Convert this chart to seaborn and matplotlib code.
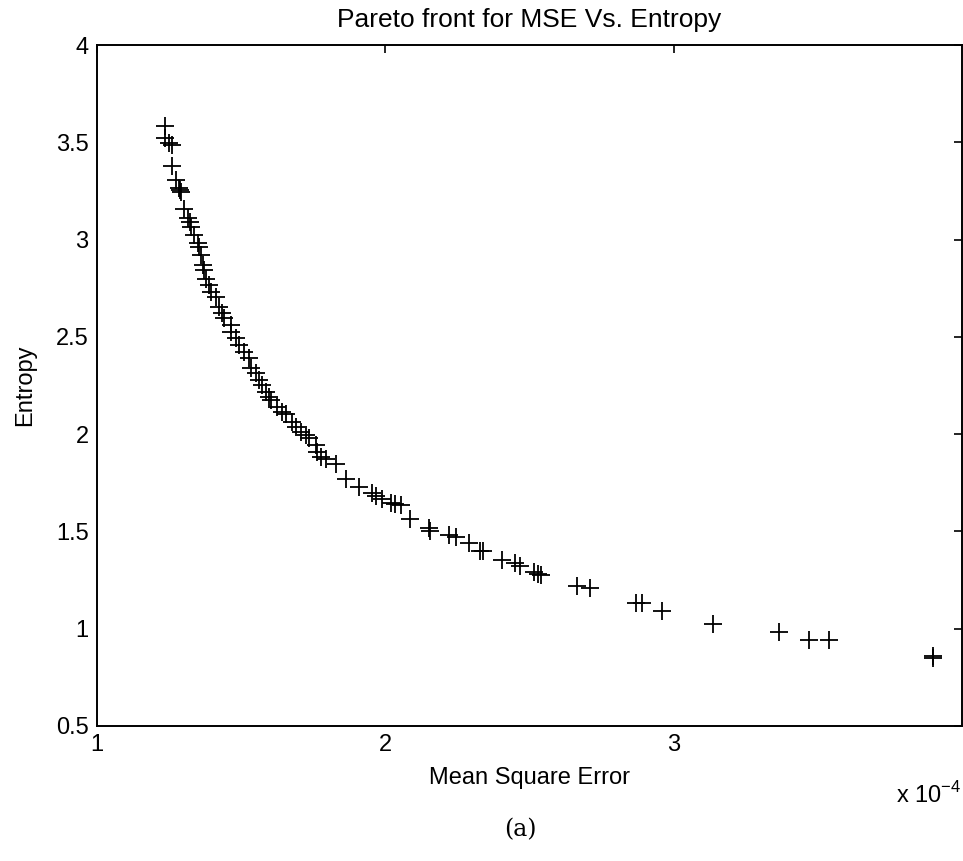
import numpy as np
import pandas as pd
import matplotlib
matplotlib.use("Agg")
import matplotlib.pyplot as plt
import seaborn as sns

# Mean square error (in units of 1e-4) and entropy of the Pareto-front solutions
mse_e4 = [1.237, 1.237, 1.251, 1.260, 1.260, 1.274, 1.283, 1.288, 1.290, 1.303,
          1.314, 1.322, 1.326, 1.337, 1.349, 1.355, 1.361, 1.366, 1.370, 1.378,
          1.389, 1.395, 1.412, 1.424, 1.435, 1.441, 1.464, 1.464, 1.482, 1.493,
          1.510, 1.528, 1.534, 1.551, 1.562, 1.574, 1.585, 1.597, 1.603, 1.626,
          1.643, 1.655, 1.678, 1.689, 1.707, 1.724, 1.735, 1.758, 1.764, 1.776,
          1.793, 1.828, 1.862, 1.908, 1.954, 1.966, 1.989, 2.018, 2.035, 2.053,
          2.084, 2.150, 2.156, 2.220, 2.245, 2.289, 2.329, 2.340, 2.405, 2.450,
          2.468, 2.517, 2.530, 2.540, 2.664, 2.710, 2.871, 2.889, 2.960, 3.137,
          3.365, 3.471, 3.538, 3.898, 3.900]
entropy = [3.584, 3.520, 3.494, 3.486, 3.378, 3.306, 3.263, 3.254, 3.245, 3.155,
           3.109, 3.092, 3.066, 3.023, 2.980, 2.963, 2.920, 2.869, 2.843, 2.800,
           2.766, 2.732, 2.706, 2.655, 2.621, 2.595, 2.560, 2.526, 2.492, 2.458,
           2.423, 2.389, 2.338, 2.312, 2.278, 2.252, 2.218, 2.192, 2.175, 2.140,
           2.115, 2.106, 2.063, 2.038, 2.012, 1.995, 1.978, 1.943, 1.909, 1.883,
           1.870, 1.849, 1.767, 1.729, 1.698, 1.681, 1.666, 1.645, 1.640, 1.635,
           1.563, 1.518, 1.503, 1.481, 1.472, 1.440, 1.400, 1.398, 1.352, 1.340,
           1.320, 1.292, 1.279, 1.275, 1.219, 1.207, 1.133, 1.130, 1.090, 1.022,
           0.982, 0.941, 0.941, 0.850, 0.860]

x_ticks = [1, 2, 3]
x_ticklabels = ["1", "2", "3"]
y_ticks = [0.5, 1, 1.5, 2, 2.5, 3, 3.5, 4]
y_ticklabels = ["0.5", "1", "1.5", "2", "2.5", "3", "3.5", "4"]

title = "Pareto front for MSE Vs. Entropy"
xlabel = "Mean Square Error"
ylabel = "Entropy"
offset_label = r"x 10$^{\mathdefault{-4}}$"
caption = "(a)"

df = pd.DataFrame({"mse": mse_e4, "entropy": entropy})

sns.set_style("white")
plt.rcParams["font.family"] = ["Liberation Sans", "DejaVu Sans"]
plt.rcParams["text.color"] = "black"
plt.rcParams["axes.labelcolor"] = "black"
plt.rcParams["xtick.color"] = "black"
plt.rcParams["ytick.color"] = "black"
plt.rcParams["axes.unicode_minus"] = False

fig = plt.figure(figsize=(9.63, 8.61), dpi=100)
ax = fig.add_axes([0.1007, 0.1568, 0.8983, 0.7909])

sns.scatterplot(data=df, x="mse", y="entropy", marker="+", color="black",
                s=169, linewidth=1.3, ax=ax, legend=False)

ax.set_xlim(1, 4)
ax.set_ylim(0.5, 4)
ax.set_xticks(x_ticks)
ax.set_xticklabels(x_ticklabels)
ax.set_yticks(y_ticks)
ax.set_yticklabels(y_ticklabels)
ax.tick_params(direction="in", length=6, width=1.2, top=True, right=True,
               labelsize=17, colors="black", pad=6)
for sp in ax.spines.values():
    sp.set_visible(True)
    sp.set_color("black")
    sp.set_linewidth(1.4)

ax.set_title(title, fontsize=19, pad=13, color="black")
ax.set_xlabel(xlabel, fontsize=17, labelpad=8)
ax.set_ylabel(ylabel, fontsize=17, labelpad=14)

fig.text(0.998, 0.062, offset_label, fontsize=17, ha="right", va="bottom")
fig.text(0.54, 0.036, caption, fontsize=17, ha="center", va="center",
         family=["DejaVu Serif"])

fig.savefig("out.png", dpi=100)
